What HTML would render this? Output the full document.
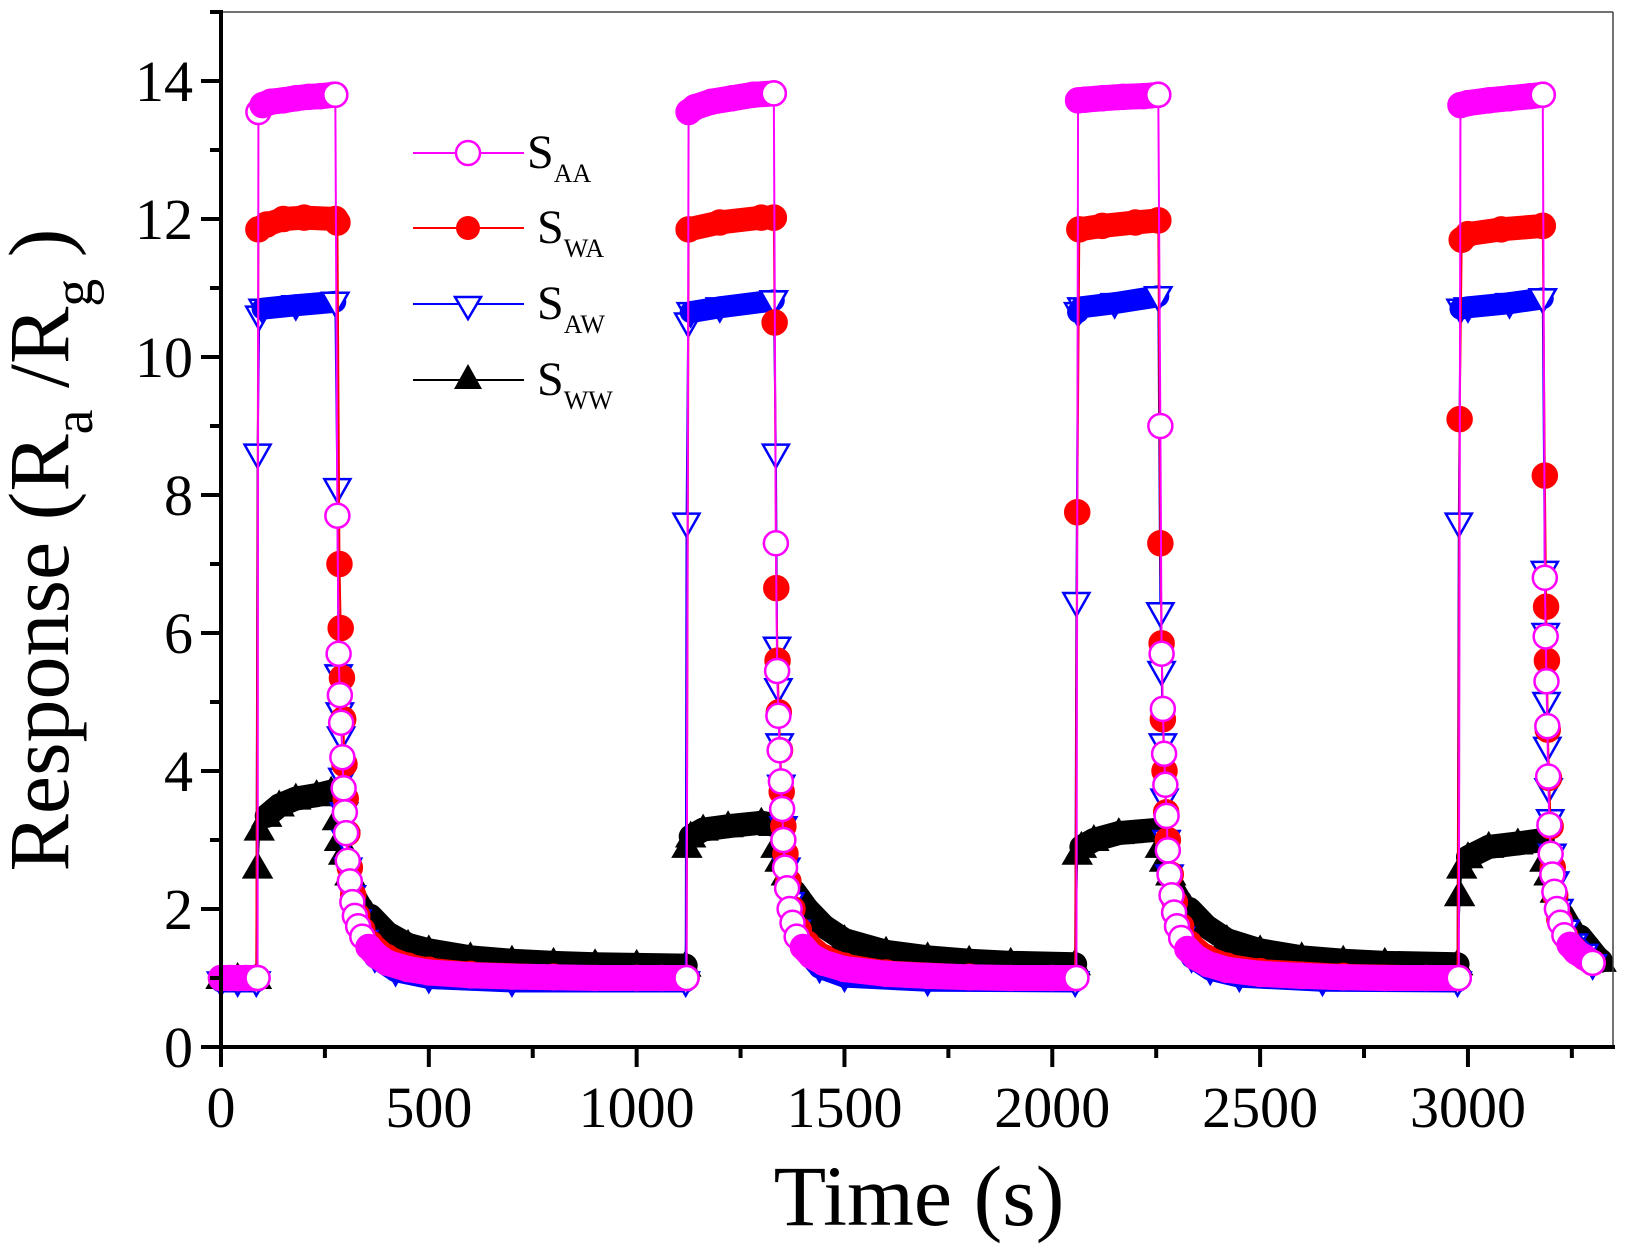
<!DOCTYPE html>
<html><head><meta charset="utf-8"><style>
html,body{margin:0;padding:0;background:#fff;}
svg{display:block;font-family:"Liberation Serif",serif;}
</style></head><body>
<svg id="chart" width="1626" height="1252" viewBox="0 0 1626 1252" xmlns="http://www.w3.org/2000/svg">
<g id="plot"></g>
<g id="axes"></g>
<g id="legend"></g>
</svg>
<script>
const xTicks=[0,500,1000,1500,2000,2500,3000];
const yTicks=[0,2,4,6,8,10,12,14];
const sAA=[[0,1],[20,1],[40,1],[60,1],[80,1],[88,1.0],[90,13.55],[100,13.65],[120,13.7],[150,13.72],[180,13.75],[210,13.77],[240,13.78],[270,13.8],[275,13.8],[280,7.7],[283,5.7],[286,5.1],[289,4.7],[292,4.2],[295,3.75],[298,3.4],[301,3.1],[305,2.7],[310,2.4],[316,2.1],[322,1.9],[330,1.75],[340,1.6],[355,1.45],[375,1.32],[400,1.22],[450,1.13],[500,1.08],[600,1.04],[700,1.02],[800,1.01],[900,1.0],[1000,1.0],[1060,1.0],[1120,1.0],
[1125,13.55],[1140,13.62],[1180,13.7],[1230,13.75],[1280,13.8],[1330,13.82],[1335,7.3],[1338,5.45],[1341,4.8],[1344,4.3],[1347,3.85],[1350,3.45],[1353,3.0],[1357,2.6],[1362,2.3],[1368,2.0],[1375,1.8],[1385,1.6],[1400,1.45],[1420,1.32],[1450,1.22],[1500,1.13],[1600,1.06],[1700,1.03],[1800,1.01],[1900,1.0],[2000,1.0],[2058,1.0],
[2062,13.72],[2080,13.73],[2120,13.75],[2170,13.77],[2220,13.78],[2255,13.8],[2260,9.0],[2263,5.7],[2266,4.9],[2269,4.25],[2272,3.8],[2275,3.35],[2278,2.85],[2282,2.5],[2287,2.2],[2293,1.95],[2300,1.75],[2310,1.58],[2325,1.42],[2345,1.3],[2375,1.2],[2420,1.12],[2500,1.06],[2600,1.03],[2700,1.01],[2800,1.0],[2900,1.0],[2978,1.0],
[2982,13.65],[3000,13.68],[3050,13.72],[3100,13.75],[3150,13.78],[3180,13.8],[3185,6.8],[3187,5.95],[3189,5.3],[3191,4.65],[3193,3.92],[3196,3.22],[3199,2.8],[3203,2.5],[3208,2.25],[3214,2.0],[3222,1.8],[3232,1.62],[3245,1.48],[3260,1.38],[3280,1.3],[3300,1.22]];
const sWA=[[0,1],[40,1],[85,1],[90,11.85],[110,11.92],[150,12.0],[200,12.02],[275,12.0],[280,11.95],[285,7.0],[288,6.07],[291,5.35],[294,4.75],[297,4.1],[300,3.6],[304,3.1],[310,2.6],[318,2.2],[328,1.9],[340,1.7],[360,1.5],[400,1.3],[450,1.18],[500,1.12],[600,1.06],[800,1.02],[1000,1.0],[1120,1.0],
[1125,11.85],[1200,11.95],[1300,12.02],[1330,12.02],[1332,10.5],[1336,6.65],[1339,5.6],[1342,4.85],[1345,4.3],[1349,3.7],[1353,3.2],[1358,2.8],[1365,2.4],[1375,2.0],[1390,1.7],[1410,1.5],[1450,1.3],[1500,1.18],[1600,1.08],[1800,1.02],[2055,1.0],
[2060,7.75],[2065,11.85],[2120,11.9],[2200,11.95],[2255,11.98],[2260,7.3],[2263,5.85],[2266,4.75],[2270,4.0],[2274,3.4],[2278,3.0],[2285,2.5],[2295,2.1],[2310,1.75],[2330,1.5],[2370,1.3],[2420,1.18],[2500,1.1],[2700,1.03],[2975,1.0],
[2980,9.1],[2985,11.7],[3000,11.78],[3080,11.85],[3180,11.9],[3185,8.28],[3188,6.38],[3190,5.6],[3192,4.6],[3195,3.9],[3199,3.2],[3204,2.6],[3210,2.2],[3220,1.85],[3235,1.6],[3255,1.42],[3280,1.3],[3300,1.22]];
const sAW=[[0,0.95],[40,0.95],[85,0.95],[88,8.6],[92,10.6],[100,10.7],[180,10.75],[275,10.8],[280,8.1],[283,5.4],[286,4.85],[289,4.5],[292,3.9],[296,3.4],[300,3.0],[306,2.6],[315,2.2],[328,1.85],[345,1.55],[370,1.3],[420,1.1],[500,1.0],[700,0.95],[1118,0.95],
[1120,7.6],[1124,10.5],[1130,10.65],[1200,10.72],[1330,10.82],[1335,8.6],[1338,5.8],[1341,5.2],[1344,4.4],[1348,3.8],[1353,3.2],[1360,2.6],[1370,2.1],[1385,1.7],[1405,1.4],[1440,1.15],[1500,1.02],[1700,0.96],[2055,0.95],
[2058,6.45],[2062,10.65],[2070,10.72],[2150,10.78],[2255,10.88],[2260,6.3],[2263,5.45],[2266,4.4],[2270,3.6],[2275,3.0],[2282,2.5],[2292,2.0],[2310,1.6],[2335,1.3],[2380,1.12],[2450,1.02],[2650,0.96],[2975,0.95],
[2978,7.6],[2982,10.7],[3000,10.72],[3100,10.78],[3180,10.85],[3185,6.9],[3187,6.0],[3189,5.0],[3191,4.35],[3194,3.75],[3198,3.3],[3203,2.8],[3210,2.4],[3220,2.0],[3235,1.7],[3255,1.5],[3280,1.35],[3300,1.2]];
const sWW=[[0,1],[40,1],[85,1.0],[88,2.6],[92,3.15],[110,3.35],[140,3.5],[180,3.6],[230,3.65],[265,3.7],[275,3.65],[280,3.3],[285,3.0],[295,2.8],[310,2.5],[330,2.2],[360,1.9],[400,1.65],[450,1.48],[500,1.4],[600,1.3],[700,1.25],[800,1.22],[900,1.2],[1000,1.19],[1118,1.18],
[1121,2.9],[1130,3.05],[1160,3.15],[1220,3.2],[1300,3.25],[1330,3.22],[1335,2.9],[1345,2.7],[1360,2.5],[1380,2.25],[1410,2.0],[1450,1.75],[1500,1.55],[1600,1.38],[1700,1.3],[1800,1.25],[1900,1.22],[2055,1.2],
[2060,2.8],[2070,2.9],[2100,3.0],[2160,3.1],[2255,3.15],[2260,2.9],[2270,2.7],[2285,2.5],[2305,2.25],[2330,2.0],[2370,1.75],[2420,1.55],[2500,1.4],[2600,1.3],[2700,1.25],[2800,1.22],[2975,1.2],
[2980,2.2],[2985,2.6],[3000,2.75],[3050,2.9],[3120,2.95],[3180,3.0],[3185,2.7],[3195,2.5],[3210,2.25],[3230,2.0],[3250,1.8],[3270,1.6],[3290,1.45],[3310,1.3],[3320,1.25]];

const NS='http://www.w3.org/2000/svg';
const L=221,R=1613,T=12,B=1047,XMAX=3349,YMAX=15;
const xs=v=>L+(v/XMAX)*(R-L);
const ys=v=>B-(v/YMAX)*(B-T);
function mk(tag,attrs,parent){const e=document.createElementNS(NS,tag);for(const k in attrs)e.setAttribute(k,attrs[k]);parent.appendChild(e);return e;}
const plot=document.getElementById('plot'),axes=document.getElementById('axes'),legend=document.getElementById('legend');

function marker(kind,cx,cy,color,fill,parent){
  let e;
  if(kind==='circle'){e=mk('circle',{cx:cx,cy:cy,r:12,fill:fill,stroke:color,'stroke-width':2.5},parent);}
  else if(kind==='down'){e=mk('polygon',{points:`${cx-13},${cy-9} ${cx+13},${cy-9} ${cx},${cy+14}`,fill:fill,stroke:color,'stroke-width':2.5},parent);}
  else {e=mk('polygon',{points:`${cx-14},${cy+10} ${cx+14},${cy+10} ${cx},${cy-14}`,fill:fill,stroke:color,'stroke-width':2},parent);}
  return e;
}
const series=[
 {name:'s-ww',data:sWW,color:'#000000',kind:'up',fill:'#000000',band:24},
 {name:'s-aw',data:sAW,color:'#0000ff',kind:'down',fill:'#ffffff',band:22},
 {name:'s-wa',data:sWA,color:'#ff0000',kind:'circle',fill:'#ff0000',band:24},
 {name:'s-aa',data:sAA,color:'#ff00ff',kind:'circle',fill:'#ffffff',band:26}
];
const flat=(a,b)=>Math.abs(b[1]-a[1])<=Math.max(4,1.5*Math.abs(b[0]-a[0]));
series.forEach(s=>{
  const g=mk('g',{},plot);
  
  
  const pts=s.data.map(d=>[xs(d[0]),ys(d[1])]);
  const line=mk('polyline',{points:pts.map(p=>p.join(',')).join(' '),fill:'none',stroke:s.color,'stroke-width':2},g);
  
  
  pts.forEach(p=>{const m=marker(s.kind,p[0],p[1],s.color,s.fill,g);
    
    });
  const ends=[];
  for(let i=0;i<pts.length-1;i++){
    if(flat(pts[i],pts[i+1])){
      const b=mk('line',{x1:pts[i][0],y1:pts[i][1],x2:pts[i+1][0],y2:pts[i+1][1],stroke:s.color,'stroke-width':s.band,'stroke-linecap':'round'},g);
      
      
      if(i+2>=pts.length||!flat(pts[i+1],pts[i+2]))ends.push(pts[i+1]);
    }
  }
  ends.forEach(p=>{const m=marker(s.kind,p[0],p[1],s.color,s.fill,g);
    
    });
});

mk('line',{x1:L,y1:T,x2:R,y2:T,stroke:'#444','stroke-width':1.5},axes);
mk('line',{x1:R,y1:T,x2:R,y2:B,stroke:'#444','stroke-width':1.5},axes);
const ya=mk('line',{x1:L,y1:T-2,x2:L,y2:B+2,stroke:'#000','stroke-width':4},axes);

const xa=mk('line',{x1:L-2,y1:B,x2:R+2,y2:B,stroke:'#000','stroke-width':4},axes);

xTicks.forEach(v=>{
  mk('line',{x1:xs(v),y1:B,x2:xs(v),y2:B+20,stroke:'#000','stroke-width':4},axes);
  if(v+250<XMAX)mk('line',{x1:xs(v+250),y1:B,x2:xs(v+250),y2:B+11,stroke:'#000','stroke-width':4},axes);
  const t=mk('text',{x:xs(v),y:B+80,'font-size':58,'text-anchor':'middle'},axes);t.textContent=v;
  
});
yTicks.forEach(v=>{
  mk('line',{x1:L-20,y1:ys(v),x2:L,y2:ys(v),stroke:'#000','stroke-width':4},axes);
  mk('line',{x1:L-11,y1:ys(v+1),x2:L,y2:ys(v+1),stroke:'#000','stroke-width':4},axes);
  const t=mk('text',{x:L-28,y:ys(v)+20,'font-size':58,'text-anchor':'end'},axes);t.textContent=v;
  
});
</script>
<svg style="position:absolute;left:0;top:0" width="1626" height="1252" xmlns="http://www.w3.org/2000/svg">
<text x="919" y="1225" font-size="86" text-anchor="middle" font-family="Liberation Serif, serif">Time (s)</text>
<text transform="translate(68,550) rotate(-90)" font-size="86" text-anchor="middle" font-family="Liberation Serif, serif">Response (R<tspan font-size="56" dy="24">a</tspan><tspan dy="-24"> /R</tspan><tspan font-size="56" dy="24">g</tspan><tspan dy="-24"> )</tspan></text>
<g><line x1="413" y1="153" x2="524" y2="153" stroke="#ff00ff" stroke-width="2"/><circle cx="468" cy="153" r="12" fill="#fff" stroke="#ff00ff" stroke-width="2.5"/><text x="527" y="168" font-size="48" font-family="Liberation Serif, serif">S<tspan font-size="26" dy="14">AA</tspan></text></g>
<g><line x1="413" y1="228" x2="524" y2="228" stroke="#ff0000" stroke-width="2"/><circle cx="468" cy="228" r="12" fill="#ff0000"/><text x="537" y="243" font-size="48" font-family="Liberation Serif, serif">S<tspan font-size="26" dy="14">WA</tspan></text></g>
<g><line x1="413" y1="304" x2="524" y2="304" stroke="#0000ff" stroke-width="2"/><polygon points="455,297 481,297 468,319" fill="#fff" stroke="#0000ff" stroke-width="2.5"/><text x="537" y="319" font-size="48" font-family="Liberation Serif, serif">S<tspan font-size="26" dy="14">AW</tspan></text></g>
<g><line x1="413" y1="380" x2="524" y2="380" stroke="#000" stroke-width="2"/><polygon points="454,389 482,389 468,364" fill="#000"/><text x="537" y="395" font-size="48" font-family="Liberation Serif, serif">S<tspan font-size="26" dy="14">WW</tspan></text></g>
</svg>
</body></html>
